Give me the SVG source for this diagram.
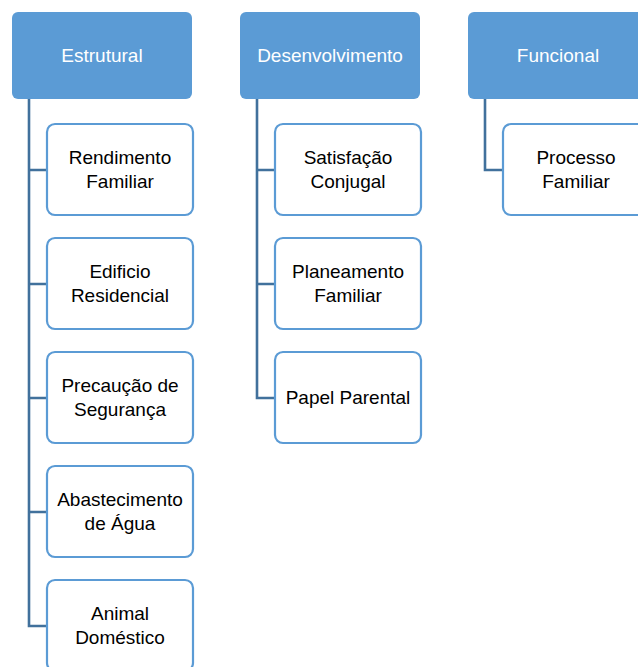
<svg xmlns="http://www.w3.org/2000/svg" width="638" height="667" viewBox="0 0 638 667">
<style>
.hdr{fill:#5b9bd5;}
.box{fill:#ffffff;stroke:#5b9bd5;stroke-width:2.2;}
.conn{fill:none;stroke:#41719c;stroke-width:2.6;}
text{font-family:"Liberation Sans",Arial,sans-serif;font-size:19px;text-anchor:middle;}
.ht{fill:#ffffff;}
.ct{fill:#000000;}
</style>
<rect width="638" height="667" fill="#ffffff"/>
<g id="connectors">
<path class="conn" d="M29 99 V170 H47 M29 170 V284 H47 M29 284 V398 H47 M29 398 V512 H47 M29 512 V626 H47"/>
<path class="conn" d="M257 99 V170 H275 M257 170 V284 H275 M257 284 V398 H275"/>
<path class="conn" d="M485 99 V170 H503"/>
</g>
<g id="estrutural"><rect class="hdr" x="12" y="12" width="180" height="87" rx="6"/><text class="ht" x="102" y="62">Estrutural</text></g>
<g id="desenvolvimento"><rect class="hdr" x="240" y="12" width="180" height="87" rx="6"/><text class="ht" x="330" y="62">Desenvolvimento</text></g>
<g id="funcional"><rect class="hdr" x="468" y="12" width="180" height="87" rx="6"/><text class="ht" x="558" y="62">Funcional</text></g>
<g id="rendimento"><rect class="box" x="47" y="124" width="146" height="91" rx="8"/><text class="ct" x="120" y="164">Rendimento</text><text class="ct" x="120" y="188">Familiar</text></g>
<g id="edificio"><rect class="box" x="47" y="238" width="146" height="91" rx="8"/><text class="ct" x="120" y="278">Edificio</text><text class="ct" x="120" y="302">Residencial</text></g>
<g id="precaucao"><rect class="box" x="47" y="352" width="146" height="91" rx="8"/><text class="ct" x="120" y="392">Precaução de</text><text class="ct" x="120" y="416">Segurança</text></g>
<g id="abastecimento"><rect class="box" x="47" y="466" width="146" height="91" rx="8"/><text class="ct" x="120" y="506">Abastecimento</text><text class="ct" x="120" y="530">de Água</text></g>
<g id="animal"><rect class="box" x="47" y="580" width="146" height="91" rx="8"/><text class="ct" x="120" y="620">Animal</text><text class="ct" x="120" y="644">Doméstico</text></g>
<g id="satisfacao"><rect class="box" x="275" y="124" width="146" height="91" rx="8"/><text class="ct" x="348" y="164">Satisfação</text><text class="ct" x="348" y="188">Conjugal</text></g>
<g id="planeamento"><rect class="box" x="275" y="238" width="146" height="91" rx="8"/><text class="ct" x="348" y="278">Planeamento</text><text class="ct" x="348" y="302">Familiar</text></g>
<g id="papel"><rect class="box" x="275" y="352" width="146" height="91" rx="8"/><text class="ct" x="348" y="404">Papel Parental</text></g>
<g id="processo"><rect class="box" x="503" y="124" width="146" height="91" rx="8"/><text class="ct" x="576" y="164">Processo</text><text class="ct" x="576" y="188">Familiar</text></g>
</svg>
